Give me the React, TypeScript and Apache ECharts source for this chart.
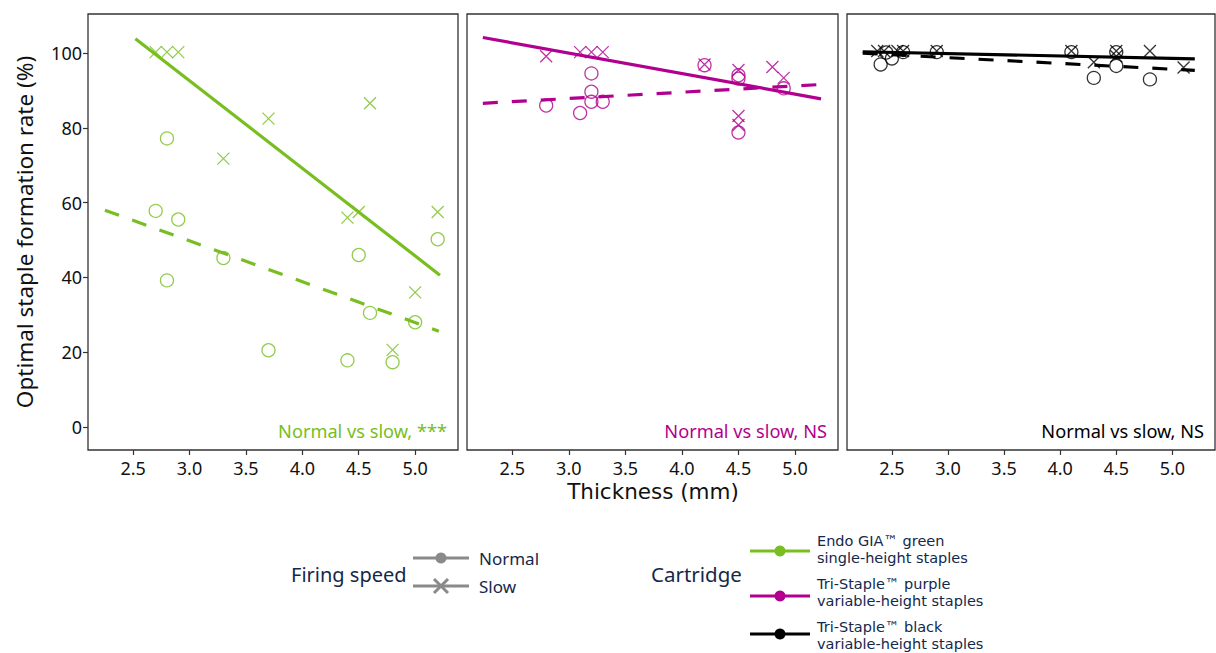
import React, { useEffect, useRef } from "react";
import * as echarts from "echarts";

const GREEN = "#78be20";
const PURPLE = "#b1008f";
const BLACK = "#000000";
const NAVY = "#14284b";

const xTicks = [2.5, 3.0, 3.5, 4.0, 4.5, 5.0];
const yTicks = [0, 20, 40, 60, 80, 100];

// Panel 1: Endo GIA green
const greenNormal: number[][] = [
  [2.7, 57.8], [2.8, 77.2], [2.9, 55.5], [2.8, 39.2], [3.3, 45.2], [3.7, 20.5],
  [4.4, 17.8], [4.5, 46.0], [4.6, 30.5], [4.8, 17.3], [5.0, 28.0], [5.2, 50.2],
];
const greenSlow: number[][] = [
  [2.7, 100.3], [2.8, 100.3], [2.9, 100.3], [3.3, 71.8], [3.7, 82.5], [4.4, 56.0],
  [4.5, 57.5], [4.6, 86.6], [4.8, 20.6], [5.0, 36.0], [5.2, 57.5],
];
const greenNormalFit: number[][] = [[2.25, 58.0], [5.21, 25.6]];
const greenSlowFit: number[][] = [[2.52, 103.9], [5.22, 40.6]];

// Panel 2: Tri-Staple purple
const purpleNormal: number[][] = [
  [2.8, 86.0], [3.1, 84.0], [3.2, 94.6], [3.2, 89.7], [3.2, 87.0], [3.3, 87.0],
  [4.2, 96.8], [4.5, 94.1], [4.5, 93.2], [4.5, 78.8], [4.9, 90.6],
];
const purpleSlow: number[][] = [
  [2.8, 99.2], [3.1, 100.3], [3.2, 100.3], [3.3, 100.3], [4.2, 97.0], [4.5, 95.5],
  [4.5, 83.2], [4.5, 80.8], [4.8, 96.3], [4.9, 93.4],
];
const purpleNormalFit: number[][] = [[2.24, 86.6], [5.21, 91.6]];
const purpleSlowFit: number[][] = [[2.24, 104.2], [5.23, 87.8]];

// Panel 3: Tri-Staple black
const blackNormal: number[][] = [
  [2.4, 97.0], [2.45, 100.2], [2.5, 98.6], [2.6, 100.3], [2.9, 100.3], [4.1, 100.3],
  [4.3, 93.4], [4.5, 100.3], [4.5, 96.6], [4.8, 93.0],
];
const blackSlow: number[][] = [
  [2.37, 100.6], [2.43, 100.6], [2.55, 100.6], [2.6, 100.6], [2.9, 100.6], [4.1, 100.6],
  [4.3, 97.6], [4.5, 100.6], [4.5, 99.2], [4.8, 100.6], [5.1, 96.2],
];
const blackNormalFit: number[][] = [[2.24, 100.0], [5.2, 95.4]];
const blackSlowFit: number[][] = [[2.24, 100.4], [5.2, 98.5]];

const panelNotes = ["Normal vs slow, ***", "Normal vs slow, NS", "Normal vs slow, NS"];
const panelColors = [GREEN, PURPLE, BLACK];

const speedLabels = ["Normal", "Slow"];
const cartridgeLabels = [
  ["Endo GIA™ green", "single-height staples"],
  ["Tri-Staple™ purple", "variable-height staples"],
  ["Tri-Staple™ black", "variable-height staples"],
];

const CROSS = "path://M0,0L10,10M10,0L0,10";
const FONT = "Noto Sans";
const TIGHT_FONT = "DejaVu Sans";

export default function App() {
  const ref = useRef<HTMLDivElement>(null);
  useEffect(() => {
    if (!ref.current) return;
    const chart = echarts.init(ref.current, undefined, { renderer: "svg" });

    const lefts = [88, 467, 847];
    const widths = [370, 371, 368];
    const grids = lefts.map((l, i) => ({
      left: l, top: 14, width: widths[i], height: 436,
      show: true, borderColor: "#333", borderWidth: 1.3, backgroundColor: "transparent",
    }));
    const xAxes = lefts.map((_, i) => ({
      type: "value", gridIndex: i, min: 2.1, max: 5.38, position: "bottom",
      axisLine: { show: false, onZero: false },
      axisTick: { show: true, length: 5, lineStyle: { color: "#333", width: 1.2 }, customValues: xTicks },
      axisLabel: {
        show: true, customValues: xTicks, margin: 9, fontSize: 18, color: "#111", fontFamily: FONT,
        formatter: (v: number) => v.toFixed(1),
      },
      splitLine: { show: false },
    }));
    const yAxes = lefts.map((_, i) => ({
      type: "value", gridIndex: i, min: -6.2, max: 110.5, position: "left",
      axisLine: { show: false, onZero: false },
      axisTick: { show: i === 0, length: 5, lineStyle: { color: "#333", width: 1.2 }, customValues: yTicks },
      axisLabel: { show: i === 0, customValues: yTicks, margin: 6, fontSize: 18, color: "#111", fontFamily: FONT },
      splitLine: { show: false },
    }));

    const panels = [
      { n: greenNormal, s: greenSlow, nf: greenNormalFit, sf: greenSlowFit, c: GREEN },
      { n: purpleNormal, s: purpleSlow, nf: purpleNormalFit, sf: purpleSlowFit, c: PURPLE },
      { n: blackNormal, s: blackSlow, nf: blackNormalFit, sf: blackSlowFit, c: BLACK },
    ];
    const series: any[] = [];
    panels.forEach((p, i) => {
      series.push({
        type: "scatter", xAxisIndex: i, yAxisIndex: i, data: p.n, symbol: "circle", symbolSize: 13,
        itemStyle: { color: "transparent", borderColor: p.c, borderWidth: 1.3 }, z: 2,
      });
      series.push({
        type: "scatter", xAxisIndex: i, yAxisIndex: i, data: p.s, symbol: CROSS, symbolSize: 12,
        itemStyle: { color: "transparent", borderColor: p.c, borderWidth: 1.3 }, z: 2,
      });
      series.push({
        type: "line", xAxisIndex: i, yAxisIndex: i, data: p.nf, showSymbol: false, z: 3,
        lineStyle: { color: p.c, width: 3.2, type: [15, 14] },
      });
      series.push({
        type: "line", xAxisIndex: i, yAxisIndex: i, data: p.sf, showSymbol: false, z: 3,
        lineStyle: { color: p.c, width: 3.2, type: "solid" },
      });
    });

    const graphics: any[] = [];
    panelNotes.forEach((t, i) => {
      graphics.push({
        type: "text", x: lefts[i] + widths[i] - 11, y: 431,
        style: { text: t, fill: panelColors[i], font: `18.2px "${FONT}"`, align: "right", verticalAlign: "middle" },
      });
    });
    graphics.push({
      type: "text", x: 653, y: 491.5,
      style: { text: "Thickness (mm)", fill: "#111", font: `21.5px "${TIGHT_FONT}"`, align: "center", verticalAlign: "middle" },
    });
    graphics.push({
      type: "text", x: 24, y: 232, rotation: Math.PI / 2,
      style: { text: "Optimal staple formation rate (%)", fill: "#111", font: `22.5px "${FONT}"`, align: "center", verticalAlign: "middle" },
    });
    // Legend: Firing speed
    graphics.push({
      type: "text", x: 291, y: 574,
      style: { text: "Firing speed", fill: NAVY, font: `20px "${FONT}"`, align: "left", verticalAlign: "middle" },
    });
    const GRAY = "#8a8a8a";
    graphics.push({ type: "line", shape: { x1: 413, y1: 558, x2: 469, y2: 558 }, style: { stroke: GRAY, lineWidth: 3 } });
    graphics.push({ type: "circle", shape: { cx: 441, cy: 558, r: 5.5 }, style: { fill: GRAY } });
    graphics.push({ type: "line", shape: { x1: 413, y1: 586, x2: 469, y2: 586 }, style: { stroke: GRAY, lineWidth: 3 } });
    graphics.push({ type: "line", shape: { x1: 434, y1: 579, x2: 448, y2: 593 }, style: { stroke: GRAY, lineWidth: 3 } });
    graphics.push({ type: "line", shape: { x1: 448, y1: 579, x2: 434, y2: 593 }, style: { stroke: GRAY, lineWidth: 3 } });
    [558, 586].forEach((yy, i) => {
      graphics.push({
        type: "text", x: 479, y: yy,
        style: { text: speedLabels[i], fill: NAVY, font: `17px "${FONT}"`, align: "left", verticalAlign: "middle" },
      });
    });
    // Legend: Cartridge
    graphics.push({
      type: "text", x: 651, y: 574,
      style: { text: "Cartridge", fill: NAVY, font: `20.5px "${FONT}"`, align: "left", verticalAlign: "middle" },
    });
    const cartKeys = [
      { c: GREEN, y: 551, ty: 541 },
      { c: PURPLE, y: 596, ty: 584 },
      { c: BLACK, y: 634, ty: 627 },
    ];
    cartKeys.forEach((k, i) => {
      graphics.push({ type: "line", shape: { x1: 750, y1: k.y, x2: 810, y2: k.y }, style: { stroke: k.c, lineWidth: 3 } });
      graphics.push({ type: "circle", shape: { cx: 780, cy: k.y, r: 5.5 }, style: { fill: k.c } });
      cartridgeLabels[i].forEach((line, j) => {
        graphics.push({
          type: "text", x: 817, y: k.ty + j * 17 - (i === 2 ? 0.5 : 0),
          style: { text: line, fill: NAVY, font: `14.5px "${TIGHT_FONT}"`, align: "left", verticalAlign: "middle" },
        });
      });
    });

    chart.setOption({
      animation: false,
      backgroundColor: "#fff",
      textStyle: { fontFamily: FONT },
      grid: grids,
      xAxis: xAxes,
      yAxis: yAxes,
      series,
      graphic: graphics,
    });
    return () => chart.dispose();
  }, []);
  return <div ref={ref} style={{ position: "fixed", left: 0, top: 0, width: 1216, height: 653 }} />;
}
